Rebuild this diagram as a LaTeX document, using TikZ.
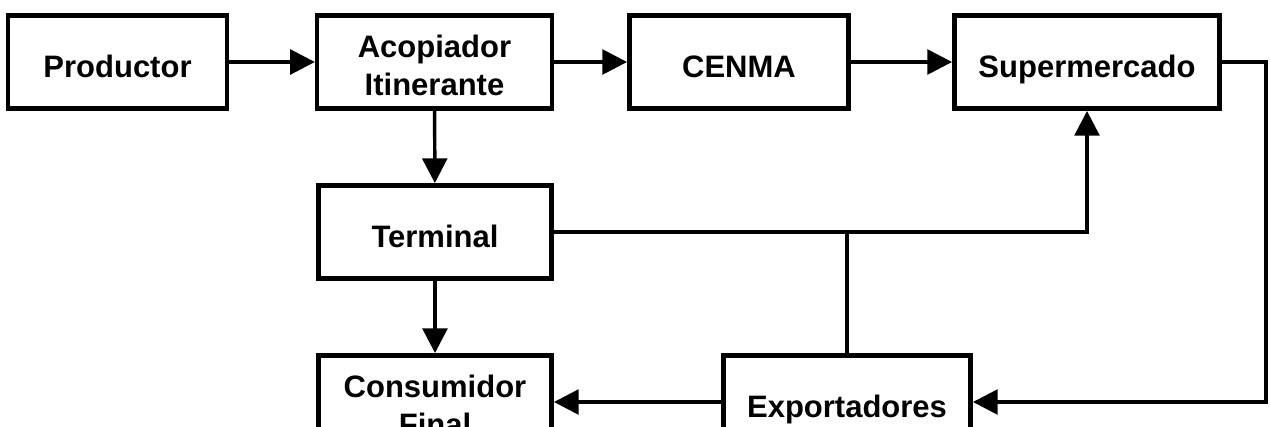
\documentclass[tikz,border=0pt]{standalone}
\usepackage{fontspec}
\setmainfont{Liberation Sans}
\usetikzlibrary{arrows.meta}
\begin{document}
\begin{tikzpicture}[x=0.75pt,y=-0.75pt,
  stagebox/.style={draw=black, line width=3.4pt, minimum height=70pt, inner sep=0pt,
    align=center, font=\fontsize{23.25}{28.5}\selectfont\bfseries,
    text height=22.5pt, text depth=0pt},
  twoline/.style={text height=50.5pt, text depth=0pt},
  conn/.style={line width=2.6pt, draw=black},
  arr/.style={conn, -{Triangle[length=18.5pt,width=18.5pt]}}]
\useasboundingbox (0,0) rectangle (1270,426);
\clip (0,0) rectangle (1270,426);
\node[stagebox, minimum width=164pt] (prod) at (117.5,62) {Productor};
\node[stagebox, twoline, minimum width=176pt] (acop) at (434.5,62) {Acopiador\\Itinerante};
\node[stagebox, minimum width=164.5pt] (cenma) at (739,62) {CENMA};
\node[stagebox, minimum width=199pt] (super) at (1087,62) {Supermercado};
\node[stagebox, minimum width=175pt] (term) at (435,232) {Terminal};
\node[stagebox, twoline, minimum width=175pt] (cons) at (435,402) {Consumidor\\Final};
\node[stagebox, minimum width=185.5pt] (expo) at (847,402) {Exportadores};
\coordinate (rc) at (1266,62);
\draw[arr] (prod) -- (acop);
\draw[arr] (acop) -- (cenma);
\draw[arr] (cenma) -- (super);
\draw[arr] (acop) -- (term);
\draw[arr] (term) -- (cons);
\draw[arr] (super.east) -- (rc) |- (expo.east);
\draw[arr] (term.east) -| (super.south);
\draw[conn] (expo.north) -- (expo.north |- term.east);
\draw[arr] (expo.west) -- (cons.east);
\end{tikzpicture}
\end{document}
